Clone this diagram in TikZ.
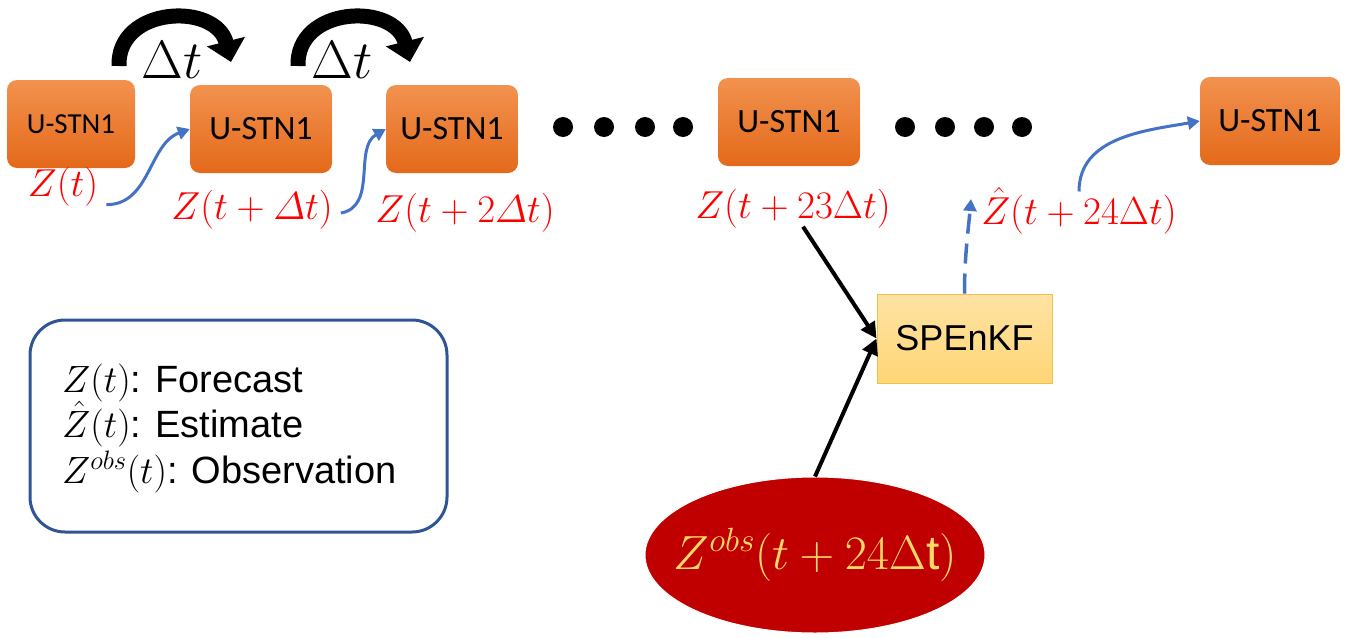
\RequirePackage{fix-cm}
\documentclass[tikz,border=0pt]{standalone}
\usepackage{amsmath}
\usepackage{fontspec}
\setmainfont{Liberation Sans}
\newfontfamily\boxfont{Carlito}
\usetikzlibrary{arrows.meta,shapes.geometric}

\definecolor{orTop}{HTML}{F2924F}
\definecolor{orBot}{HTML}{E4691A}
\definecolor{arrBlue}{HTML}{4472C4}
\definecolor{kfTop}{HTML}{FFE3A3}
\definecolor{kfBot}{HTML}{FFD677}
\definecolor{kfEdge}{HTML}{F2C04A}
\definecolor{obsFill}{HTML}{C00000}
\definecolor{obsText}{HTML}{FFD966}
\definecolor{legEdge}{HTML}{2F5597}

\tikzset{
  netbox/.style={rectangle, rounded corners=10pt, top color=orTop, bottom color=orBot,
    draw=none, minimum height=88pt, inner sep=0pt, font=\boxfont\fontsize{34}{40}\selectfont},
  statelbl/.style={text=red, inner sep=0pt, font=\fontsize{39}{44}\selectfont},
  flowarrow/.style={draw=arrBlue, line width=3pt, -{Triangle[width=13pt,length=12pt]}},
  inarrow/.style={draw=black, line width=4pt, -{Triangle[width=16pt,length=16pt]}},
  steparrow/.style={draw=black, line width=15pt, -{Triangle[width=38pt,length=21pt]}},
  dtlbl/.style={inner sep=0pt, font=\fontsize{54}{58}\selectfont},
}

\begin{document}
\begin{tikzpicture}[x=1pt,y=-1pt]
\path[use as bounding box] (0,0) rectangle (1351,637);

% network copies along the time axis
\node[netbox, minimum width=128pt, font=\boxfont\fontsize{29}{35}\selectfont] (b1) at (71,124) {U-STN1};
\node[netbox, minimum width=142pt] (b2) at (261,129) {U-STN1};
\node[netbox, minimum width=132pt] (b3) at (452,129) {U-STN1};
\node[netbox, minimum width=142pt] (b4) at (789,122) {U-STN1};
\node[netbox, minimum width=140pt] (b5) at (1270,121) {U-STN1};

% ellipsis dots
\foreach \dx in {563,604,645,683} \fill (\dx,127) circle (10pt);
\foreach \dx in {905,945,984,1022} \fill (\dx,127) circle (10pt);

% time-step arrows
\coordinate (s1a) at (119,66);
\coordinate (s1b) at (231,62);
\draw[steparrow] (s1a) .. controls (117,6) and (216,2) .. (s1b);
\node[dtlbl] (dt1) at (172,60) {$\Delta t$};
\coordinate (s2a) at (298,66);
\coordinate (s2b) at (410,62);
\draw[steparrow] (s2a) .. controls (296,6) and (395,2) .. (s2b);
\node[dtlbl] (dt2) at (342,60) {$\Delta t$};

% state labels
\node[statelbl] (z0) at (63,187) {$Z(t)$};
\node[statelbl] (z1) at (252,210) {$Z(t+\varDelta t)$};
\node[statelbl] (z2) at (465,213) {$Z(t+2\varDelta t)$};
\node[statelbl] (z23) at (793,209) {$Z(t+23\Delta t)$};
\node[statelbl] (z24) at (1079,211) {$\hat{Z}(t+24\Delta t)$};

% forecast propagation
\draw[flowarrow] ([shift={(8,-2)}]z0.south east) to[out=0,in=200] (b2.west);
\draw[flowarrow] ([xshift=8pt,yshift=-3pt]z1.east) to[out=10,in=210] (b3.west);
\draw[flowarrow] ([yshift=-4pt]z24.north) to[out=90,in=190] (b5.west);

% analysis step
\node[rectangle, top color=kfTop, bottom color=kfBot, draw=kfEdge, line width=1pt,
      minimum width=175pt, minimum height=89pt, inner sep=0pt,
      font=\fontsize{36}{42}\selectfont] (kf) at (964.5,338.5) {SPEnKF};
\node[ellipse, fill=obsFill, draw=white, line width=1pt, minimum width=340pt,
      minimum height=156pt, inner sep=0pt, text=obsText,
      font=\fontsize{48}{52}\selectfont] (obs) at (815,555)
      {\makebox[0pt]{$Z^{obs}(t+24\Delta\mathrm{t})$}};

\draw[inarrow] ([xshift=10pt,yshift=2pt]z23.south) -- (kf.west);
\draw[inarrow] (obs.north) -- (kf.west);

\coordinate (zh) at (971,199);
\draw[flowarrow, line width=3.5pt, dash pattern=on 20pt off 10pt] (kf.north) to[out=90,in=265] (zh);

% legend
\node[rectangle, rounded corners=35pt, draw=legEdge, line width=3pt,
      minimum width=417pt, minimum height=212pt] (leg) at (238.5,426) {};
\node[anchor=west, align=left, inner sep=0pt, font=\fontsize{38}{45.5}\selectfont]
  (legtxt) at (62,428)
  {$Z(t)$: Forecast\\ $\hat{Z}(t)$: Estimate\\ $Z^{obs}(t)$: Observation};
\end{tikzpicture}
\end{document}
